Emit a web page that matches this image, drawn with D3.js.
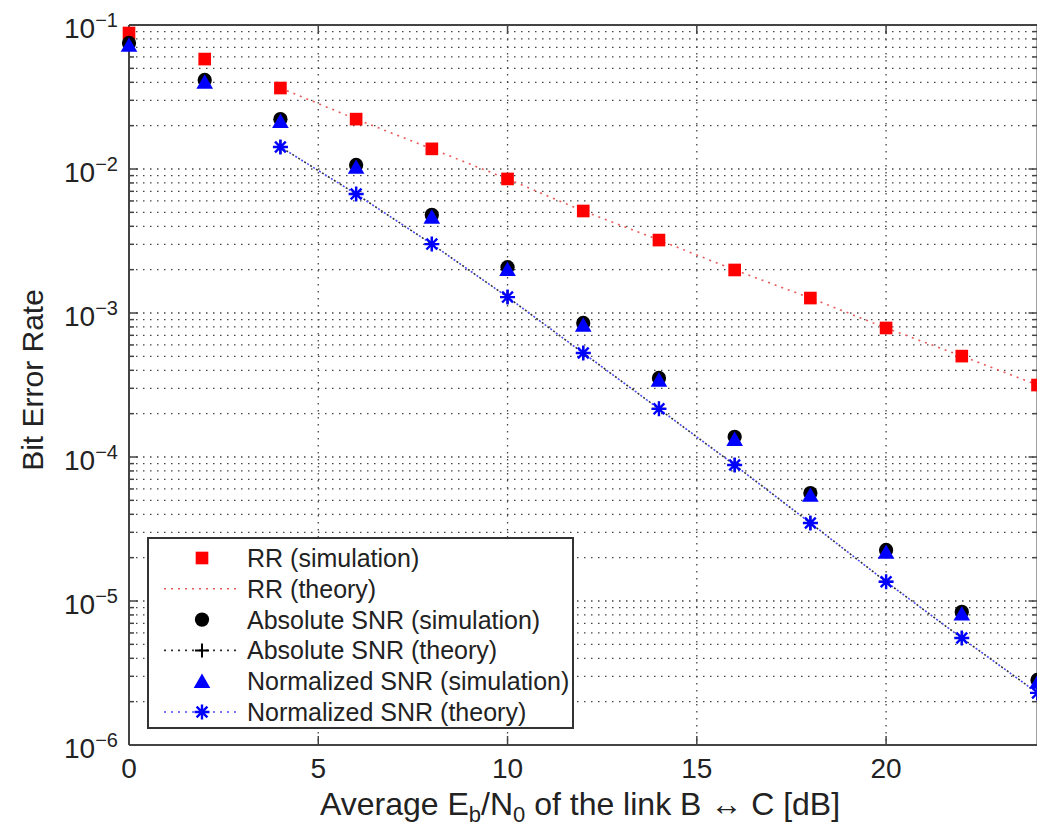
<html>
<head>
<script src="https://d3js.org/d3.v7.min.js"></script>
<style>
body { margin: 0; background: white; }
text { font-family: 'Liberation Sans', Arial, Helvetica, sans-serif; fill: #222; }
</style>
</head>
<body>
<svg width="1037" height="830"></svg>
<script>
// Eb/N0 points (dB)
const ebn0 = [0, 2, 4, 6, 8, 10, 12, 14, 16, 18, 20, 22, 24];
const rrSim = [0.088, 0.058, 0.0365, 0.0222, 0.0138, 0.00853, 0.00511, 0.00321, 0.00199, 0.00127, 0.000787, 0.000502, 0.000316];
const absSim = [0.075, 0.0415, 0.0222, 0.01066, 0.0048, 0.00208, 0.000853, 0.000354, 0.000138, 5.62e-5, 2.26e-5, 8.4e-6, 2.83e-6];
const normSim = [0.0703, 0.039, 0.0208, 0.01, 0.0045, 0.00195, 0.0008, 0.000332, 0.000129, 5.27e-5, 2.12e-5, 7.9e-6, 2.65e-6];

// theory curves start at 4 dB
const theoryX = [4, 6, 8, 10, 12, 14, 16, 18, 20, 22, 24];
const rrTheory = [0.0365, 0.0222, 0.0138, 0.00853, 0.00511, 0.00321, 0.00199, 0.00127, 0.000787, 0.000502, 0.000316];
const absTheory = [0.01422, 0.0067, 0.00301, 0.00129, 0.000527, 0.000216, 8.8e-5, 3.48e-5, 1.36e-5, 5.53e-6, 2.3e-6];
const normTheory = [0.01422, 0.0067, 0.00301, 0.00129, 0.000527, 0.000216, 8.8e-5, 3.48e-5, 1.36e-5, 5.53e-6, 2.3e-6];

const xTicks = [0, 5, 10, 15, 20];
const yExps = [-1, -2, -3, -4, -5, -6];

const legendLabels = ["RR (simulation)", "RR (theory)", "Absolute SNR (simulation)",
  "Absolute SNR (theory)", "Normalized SNR (simulation)", "Normalized SNR (theory)"];

const pL = 129, pR = 1037.5, pT = 25, pB = 745;
const svg = d3.select("svg");
svg.append("rect").attr("width", 1037).attr("height", 830).attr("fill", "white");

const x = d3.scaleLinear().domain([0, 24]).range([pL, pR]);
const y = d3.scaleLog().domain([1e-6, 1e-1]).range([pB, pT]);

// grid
const minorVals = [];
for (let k = -6; k <= -2; k++) {
  for (let m = 1; m <= 9; m++) {
    if (m == 1 && k == -6) continue;
    minorVals.push(m * Math.pow(10, k));
  }
}
const grid = svg.append("g").attr("stroke", "#444").attr("stroke-width", 1.3)
  .attr("stroke-dasharray", "1.5,5.5");
grid.selectAll(".hg").data(minorVals).enter().append("line")
  .attr("x1", pL).attr("x2", pR)
  .attr("y1", d => y(d)).attr("y2", d => y(d));
grid.selectAll(".vg").data(xTicks.slice(1)).enter().append("line")
  .attr("y1", pT).attr("y2", pB)
  .attr("x1", d => x(d)).attr("x2", d => x(d));

// axes box
const ax = svg.append("g").attr("stroke", "#444").attr("stroke-width", 2).attr("fill", "none");
ax.append("line").attr("x1", pL).attr("x2", pR).attr("y1", pT).attr("y2", pT);
ax.append("line").attr("x1", pL).attr("x2", pR).attr("y1", pB).attr("y2", pB);
ax.append("line").attr("x1", pL).attr("x2", pL).attr("y1", pT).attr("y2", pB);
ax.append("line").attr("x1", pR).attr("x2", pR).attr("y1", pT).attr("y2", pB);

// ticks
const allY = minorVals.concat([1e-1, 1e-6]);
allY.forEach(v => {
  const isMajor = Math.abs(Math.log10(v) - Math.round(Math.log10(v))) < 1e-9;
  const len = isMajor ? 9 : 5;
  ax.append("line").attr("x1", pL).attr("x2", pL + len).attr("y1", y(v)).attr("y2", y(v)).attr("stroke-width", 1.5);
  ax.append("line").attr("x1", pR).attr("x2", pR - len).attr("y1", y(v)).attr("y2", y(v)).attr("stroke-width", 1.5);
});
xTicks.forEach(v => {
  ax.append("line").attr("x1", x(v)).attr("x2", x(v)).attr("y1", pB).attr("y2", pB - 9).attr("stroke-width", 1.5);
  ax.append("line").attr("x1", x(v)).attr("x2", x(v)).attr("y1", pT).attr("y2", pT + 9).attr("stroke-width", 1.5);
});

// tick labels
svg.selectAll(".xl").data(xTicks).enter().append("text")
  .attr("x", d => x(d)).attr("y", 778)
  .attr("text-anchor", "middle").attr("font-size", 28)
  .text(d => d);

const yl = svg.selectAll(".yl").data(yExps).enter().append("text")
  .attr("x", 118).attr("y", d => y(Math.pow(10, d)) + 13)
  .attr("text-anchor", "end").attr("font-size", 28);
yl.append("tspan").text("10");
yl.append("tspan").attr("dy", -11).attr("font-size", 20).text(d => "\u2212" + (-d));

// axis titles
svg.append("text").attr("transform", "translate(43,380) rotate(-90)")
  .attr("text-anchor", "middle").attr("font-size", 30).text("Bit Error Rate");
const xt = svg.append("text").attr("x", 580).attr("y", 815)
  .attr("text-anchor", "middle").attr("font-size", 32);
xt.append("tspan").text("Average E");
xt.append("tspan").attr("font-size", 22).attr("dy", 7).text("b");
xt.append("tspan").attr("dy", -7).text("/N");
xt.append("tspan").attr("font-size", 22).attr("dy", 7).text("0");
xt.append("tspan").attr("dy", -7).text(" of the link B \u2194 C [dB]");

// marker shapes
function star(r) {
  const d = r * 0.72;
  return `M${-r},0L${r},0M0,${-r}L0,${r}M${-d},${-d}L${d},${d}M${-d},${d}L${d},${-d}`;
}
function plus(r) {
  return `M${-r},0L${r},0M0,${-r}L0,${r}`;
}
const sq = d3.symbol().type(d3.symbolSquare).size(160)();
const circ = d3.symbol().type(d3.symbolCircle).size(160)();
const tri = d3.symbol().type(d3.symbolTriangle).size(120)();

// theory lines
const lineGen = d3.line().x(d => x(d[0])).y(d => y(d[1]));
svg.append("path").datum(d3.zip(theoryX, rrTheory)).attr("d", lineGen)
  .attr("fill", "none").attr("stroke", "#e85a5a").attr("stroke-width", 1.6).attr("stroke-dasharray", "2,5");
svg.append("path").datum(d3.zip(theoryX, absTheory)).attr("d", lineGen)
  .attr("fill", "none").attr("stroke", "#333").attr("stroke-width", 1.6).attr("stroke-dasharray", "2,5");
svg.append("path").datum(d3.zip(theoryX, normTheory)).attr("d", lineGen)
  .attr("fill", "none").attr("stroke", "#4a4aff").attr("stroke-width", 1.6).attr("stroke-dasharray", "2,5")
  .attr("stroke-dashoffset", 3.5);

// simulation markers
svg.selectAll(".rr").data(d3.zip(ebn0, rrSim)).enter().append("path")
  .attr("d", sq).attr("fill", "#f00")
  .attr("transform", d => `translate(${x(d[0])},${y(d[1])})`);
svg.selectAll(".abs").data(d3.zip(ebn0, absSim)).enter().append("path")
  .attr("d", circ).attr("fill", "#000")
  .attr("transform", d => `translate(${x(d[0])},${y(d[1])})`);
svg.selectAll(".norm").data(d3.zip(ebn0, normSim)).enter().append("path")
  .attr("d", tri).attr("fill", "#00f")
  .attr("transform", d => `translate(${x(d[0])},${y(d[1])})`);
svg.selectAll(".absT").data(d3.zip(theoryX, absTheory)).enter().append("path")
  .attr("d", plus(7)).attr("stroke", "#000").attr("stroke-width", 2)
  .attr("transform", d => `translate(${x(d[0])},${y(d[1])})`);
svg.selectAll(".normT").data(d3.zip(theoryX, normTheory)).enter().append("path")
  .attr("d", star(7.5)).attr("stroke", "#00f").attr("stroke-width", 2.4)
  .attr("transform", d => `translate(${x(d[0])},${y(d[1])})`);

// legend
const lg = svg.append("g");
lg.append("rect").attr("x", 148).attr("y", 538).attr("width", 425).attr("height", 190)
  .attr("fill", "white").attr("stroke", "#333").attr("stroke-width", 2);
const rowY = i => 558 + i * 30.8;
lg.selectAll("text").data(legendLabels).enter().append("text")
  .attr("x", 247).attr("y", (d, i) => rowY(i) + 9).attr("font-size", 25).text(d => d);
const lineRows = [[1, "#e85a5a"], [3, "#333"], [5, "#4a4aff"]];
lineRows.forEach(r => {
  lg.append("line").attr("x1", 164).attr("x2", 236).attr("y1", rowY(r[0])).attr("y2", rowY(r[0]))
    .attr("stroke", r[1]).attr("stroke-width", 1.6).attr("stroke-dasharray", "2,5");
});
lg.append("path").attr("d", sq).attr("fill", "#f00").attr("transform", `translate(202,${rowY(0)})`);
lg.append("path").attr("d", circ).attr("fill", "#000").attr("transform", `translate(202,${rowY(2)})`);
lg.append("path").attr("d", plus(7)).attr("stroke", "#000").attr("stroke-width", 2).attr("transform", `translate(202,${rowY(3)})`);
lg.append("path").attr("d", tri).attr("fill", "#00f").attr("transform", `translate(202,${rowY(4) + 2})`);
lg.append("path").attr("d", star(7.5)).attr("stroke", "#00f").attr("stroke-width", 2.4).attr("transform", `translate(202,${rowY(5)})`);
</script>
</body>
</html>
